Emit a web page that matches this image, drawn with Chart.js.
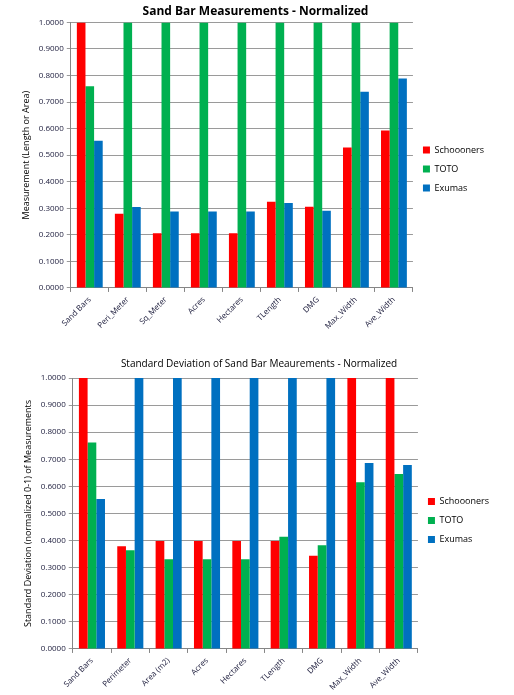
<!DOCTYPE html>
<html>
<head>
<meta charset="utf-8">
<script src="https://cdn.jsdelivr.net/npm/chart.js@4"></script>
<style>
  html, body { margin: 0; padding: 0; background: #fff; }
  #top { position: absolute; left: 0; top: 0; width: 514px; height: 340px; }
  #bottom { position: absolute; left: 0; top: 340px; width: 514px; height: 355px; }
</style>
</head>
<body>
<div id="top"><canvas id="chart1"></canvas></div>
<div id="bottom"><canvas id="chart2"></canvas></div>
<script>
// chart 1 - measurements
const labels1 = ['Sand Bars', 'Peri_Meter', 'Sq_Meter', 'Acres', 'Hectares', 'TLength', 'DMG', 'Max_Width', 'Ave_Width'];
const schooners1 = [1.0, 0.279, 0.206, 0.206, 0.206, 0.325, 0.306, 0.529, 0.593];
const toto1 = [0.760, 1.0, 1.0, 1.0, 1.0, 1.0, 1.0, 1.0, 1.0];
const exumas1 = [0.554, 0.305, 0.288, 0.288, 0.288, 0.320, 0.291, 0.739, 0.789];

// chart 2 - standard deviation
const labels2 = ['Sand Bars', 'Perimeter', 'Area (m2)', 'Acres', 'Hectares', 'TLength', 'DMG', 'Max_Width', 'Ave_Width'];
const schooners2 = [1.0, 0.379, 0.398, 0.398, 0.398, 0.398, 0.344, 1.0, 1.0];
const toto2 = [0.762, 0.364, 0.331, 0.331, 0.331, 0.414, 0.383, 0.615, 0.646];
const exumas2 = [0.553, 1.0, 1.0, 1.0, 1.0, 1.0, 1.0, 0.686, 0.679];

const seriesNames = ['Schoooners', 'TOTO', 'Exumas'];
const colors = ['#ff0000', '#00b050', '#0070c0'];
const textColor = '#1a1a3a';
const font = 'Open Sans';

const makeChart = (id, labels, data, title, titleBold, yTitle, pad) => {
  new Chart(id, {
    type: 'bar',
    data: {
      labels: labels,
      datasets: data.map((d, i) => ({
        label: seriesNames[i],
        data: d,
        backgroundColor: colors[i],
        borderWidth: 0,
        barPercentage: 1.0,
        categoryPercentage: 0.68,
      })),
    },
    options: {
      responsive: true,
      maintainAspectRatio: false,
      animation: false,
      layout: { padding: pad },
      plugins: {
        title: {
          display: true,
          text: title,
          color: '#000',
          font: { family: font, size: titleBold ? 12 : 10, weight: titleBold ? 'bold' : 'normal' },
          padding: { top: titleBold ? 0 : 12, bottom: titleBold ? 4 : 8 },
        },
        legend: {
          position: 'right',
          labels: {
            boxWidth: 7,
            boxHeight: 7,
            color: '#000',
            font: { family: font, size: 9 },
            padding: 10,
          },
        },
        tooltip: { enabled: false },
      },
      scales: {
        x: {
          grid: { offset: true, drawOnChartArea: false, color: '#868686', tickLength: 4 },
          border: { color: '#868686' },
          ticks: {
            color: textColor,
            font: { family: font, size: 8 },
            maxRotation: 45,
            minRotation: 45,
            autoSkip: false,
          },
        },
        y: {
          min: 0,
          max: 1,
          grid: { color: '#9a9a9a', tickLength: 4 },
          border: { color: '#868686' },
          ticks: {
            stepSize: 0.1,
            color: textColor,
            font: { family: font, size: 8 },
            callback: (v) => v.toFixed(4),
          },
          title: {
            display: true,
            text: yTitle,
            color: '#000',
            font: { family: font, size: 9 },
            padding: 4,
          },
        },
      },
    },
  });
};

makeChart('chart1', labels1, [schooners1, toto1, exumas1],
  'Sand Bar Measurements - Normalized', true, 'Measurement (Length or Area)',
  { left: 17, right: 20, top: 4, bottom: 6 });
makeChart('chart2', labels2, [schooners2, toto2, exumas2],
  'Standard Deviation of Sand Bar Meaurements - Normalized', false, 'Standard Deviation (normalized 0-1) of Measurements',
  { left: 19, right: 15, top: 6, bottom: 0 });
</script>
</body>
</html>
